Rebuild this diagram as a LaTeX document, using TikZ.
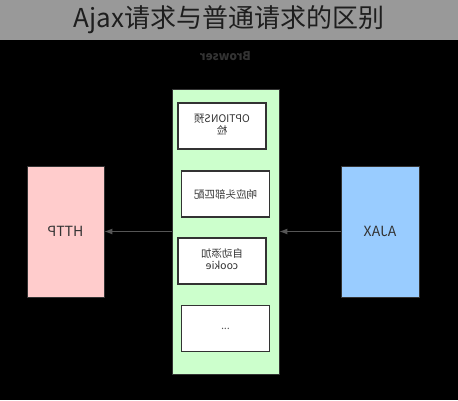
\documentclass[tikz,border=0pt]{standalone}
\usepackage{fontspec}
\usepackage{graphicx}
\setmainfont{Noto Sans CJK SC}
\usetikzlibrary{arrows.meta}

\definecolor{titleband}{HTML}{999999}
\definecolor{titletext}{HTML}{1E1E1E}
\definecolor{browserfill}{HTML}{CCFFCC}
\definecolor{httpfill}{HTML}{FFCCCC}
\definecolor{ajaxfill}{HTML}{99CCFF}
\definecolor{boxline}{HTML}{333333}
\definecolor{arrowgray}{HTML}{555555}

% mirrored text, as the picture shows it
\newcommand\flipped[1]{\scalebox{-1}[1]{#1}}

\tikzset{
  stepbox/.style={draw=boxline, line width=1.3pt, fill=white, inner sep=0pt,
    minimum width=88pt, minimum height=46pt, align=center,
    font=\fontsize{10.5}{12}\selectfont, text=boxline},
  sidebox/.style={draw=boxline, line width=0.8pt, inner sep=0pt,
    minimum width=77pt, minimum height=131pt,
    font=\fontsize{14}{16}\selectfont, text=boxline},
}

\begin{document}
\begin{tikzpicture}[x=1pt,y=-1pt,>={Latex[length=8pt,width=6pt]}]
        \useasboundingbox (0,0) rectangle (458,400);
        \fill[black] (0,40) rectangle (458,400);
        \fill[titleband] (0,0) rectangle (458,40);
        \node[text=titletext, font=\fontsize{26}{28}\selectfont] (title) at (229,20) {Ajax请求与普通请求的区别};
        \node[text=boxline, font=\fontsize{12}{14}\selectfont\bfseries] (browserlabel) at (225.5,56) {\flipped{Browser}};
        \node[draw=boxline, line width=0.8pt, fill=browserfill, minimum width=107pt, minimum height=285pt] (browser) at (225.5,231.5) {};
        \node[stepbox] (options) at (222,126) {\flipped{\begin{tabular}{@{}c@{}}OPTIONS预\\检\end{tabular}}};
        \node[stepbox] (header) at (225.5,194) {\flipped{响应头部匹配}};
        \node[stepbox] (cookie) at (222,261) {\flipped{\begin{tabular}{@{}c@{}}自动添加\\cookie\end{tabular}}};
        \node[stepbox, text=arrowgray] (more) at (225.5,328.5) {\flipped{...}};
        \node[sidebox, fill=httpfill] (http) at (65.5,231.5) {\flipped{HTTP}};
        \node[sidebox, fill=ajaxfill, minimum width=78pt] (ajax) at (380,231.5) {\flipped{AJAX}};
        \draw[->, arrowgray, line width=1pt](browser.west)--(http.east);
        \draw[->, arrowgray, line width=1pt](ajax.west)--(browser.east);
    \end{tikzpicture}
\end{document}
